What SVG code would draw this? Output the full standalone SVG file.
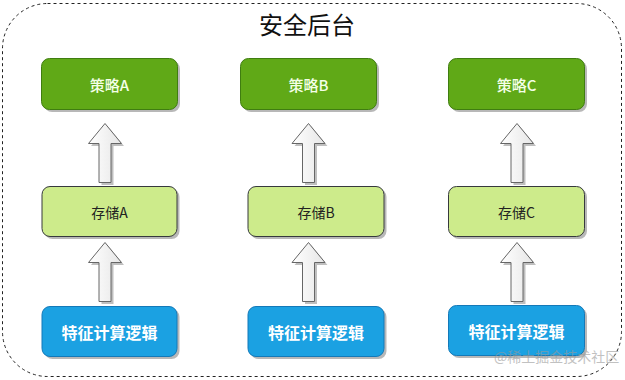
<svg xmlns="http://www.w3.org/2000/svg" width="625" height="380" viewBox="0 0 625 380">
<style>
.frame{fill:none;stroke:#222;stroke-width:1;stroke-dasharray:3,3}
.title{font-family:"Noto Sans CJK SC","Noto Sans",sans-serif;font-size:24px;fill:#111;text-anchor:middle}
.top{fill:#60a917;stroke:#3f7d10;stroke-width:1}
.mid{fill:#cdeb8b;stroke:#36393d;stroke-width:1}
.bot{fill:#1ba1e2;stroke:#1479b8;stroke-width:1}
.shadow{fill:#000;opacity:0.28}
.t{font-family:"Noto Sans CJK SC","Noto Sans",sans-serif;text-anchor:middle;dominant-baseline:central}
.tt{font-size:15px;fill:#f4ffe8;font-weight:500}
.mt{font-size:14px;fill:#222}
.bt{font-size:16px;fill:#fff;font-weight:bold}
.arr{fill:url(#ag);stroke:#666;stroke-width:1;stroke-linejoin:miter}
.ashadow{fill:#000;opacity:0.25}
.wm{font-family:"Noto Sans CJK SC","Noto Sans",sans-serif;font-size:14px;fill:#999;opacity:0.6}
</style>
<defs>
<linearGradient id="ag" x1="0" y1="0" x2="1" y2="0">
<stop offset="0" stop-color="#ffffff"/>
<stop offset="1" stop-color="#e6e6e6"/>
</linearGradient>
<path id="arrow" d="M0,0 L16.5,20 L6,20 L6,59 L-6,59 L-6,20 L-16.5,20 Z"/>
</defs>
<rect class="frame" x="2.5" y="3.5" width="619" height="373" rx="45" ry="45"/>
<text class="title" x="307" y="34">安全后台</text>

<g id="connectors">
<use href="#arrow" class="ashadow" x="107.5" y="126"/>
<use href="#arrow" class="arr" x="105" y="123.5"/>
<use href="#arrow" class="ashadow" x="107.5" y="245"/>
<use href="#arrow" class="arr" x="105" y="242.5"/>
<use href="#arrow" class="ashadow" x="311" y="126"/>
<use href="#arrow" class="arr" x="308.5" y="123.5"/>
<use href="#arrow" class="ashadow" x="311" y="245"/>
<use href="#arrow" class="arr" x="308.5" y="242.5"/>
<use href="#arrow" class="ashadow" x="519.5" y="126"/>
<use href="#arrow" class="arr" x="517" y="123.5"/>
<use href="#arrow" class="ashadow" x="519.5" y="245"/>
<use href="#arrow" class="arr" x="517" y="242.5"/>
</g>

<g id="strategyA">
<rect class="shadow" x="44" y="61" width="136" height="51" rx="8"/>
<rect class="top" x="41.5" y="58.5" width="136" height="51" rx="8"/>
<text class="t tt" x="109.5" y="84">策略A</text>
</g>
<g id="strategyB">
<rect class="shadow" x="243" y="61" width="136" height="51" rx="8"/>
<rect class="top" x="240.5" y="58.5" width="136" height="51" rx="8"/>
<text class="t tt" x="308.5" y="84">策略B</text>
</g>
<g id="strategyC">
<rect class="shadow" x="451" y="61" width="136" height="51" rx="8"/>
<rect class="top" x="448.5" y="58.5" width="136" height="51" rx="8"/>
<text class="t tt" x="516.5" y="84">策略C</text>
</g>

<g id="storageA">
<rect class="shadow" x="44.5" y="189" width="135" height="50" rx="8"/>
<rect class="mid" x="42" y="186.5" width="135" height="50" rx="8"/>
<text class="t mt" x="109.5" y="211.5">存储A</text>
</g>
<g id="storageB">
<rect class="shadow" x="250.5" y="189" width="136" height="50" rx="8"/>
<rect class="mid" x="248" y="186.5" width="136" height="50" rx="8"/>
<text class="t mt" x="316" y="211.5">存储B</text>
</g>
<g id="storageC">
<rect class="shadow" x="451" y="189" width="136" height="50" rx="8"/>
<rect class="mid" x="448.5" y="186.5" width="136" height="50" rx="8"/>
<text class="t mt" x="516.5" y="211.5">存储C</text>
</g>

<g id="featureA">
<rect class="shadow" x="44.5" y="309" width="135" height="50" rx="8"/>
<rect class="bot" x="42" y="306.5" width="135" height="50" rx="8"/>
<text class="t bt" x="109.5" y="331.5">特征计算逻辑</text>
</g>
<g id="featureB">
<rect class="shadow" x="250.5" y="309" width="136" height="50" rx="8"/>
<rect class="bot" x="248" y="306.5" width="136" height="50" rx="8"/>
<text class="t bt" x="316" y="331.5">特征计算逻辑</text>
</g>
<g id="featureC">
<rect class="shadow" x="451" y="308" width="136" height="50" rx="8"/>
<rect class="bot" x="448.5" y="305.5" width="136" height="50" rx="8"/>
<text class="t bt" x="516.5" y="330.5">特征计算逻辑</text>
</g>

<text class="wm" x="494" y="362">@稀土掘金技术社区</text>
</svg>
